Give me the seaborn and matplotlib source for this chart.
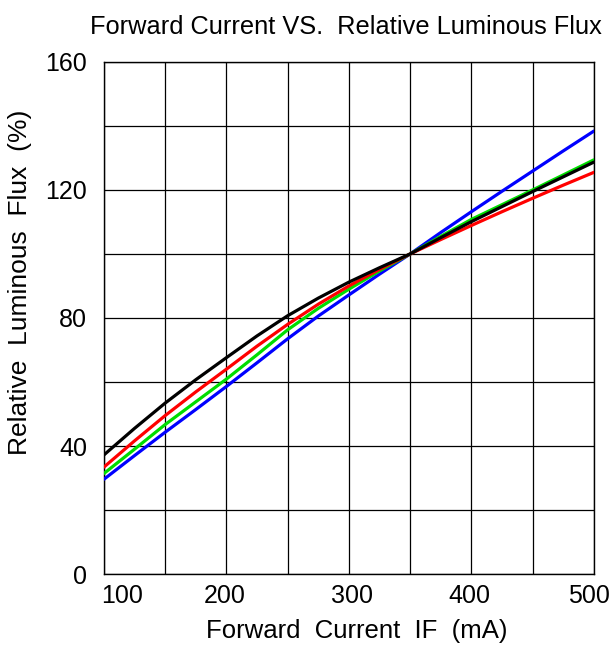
import matplotlib
matplotlib.use("Agg")
import matplotlib.pyplot as plt
import matplotlib.transforms as mtransforms
import seaborn as sns
import pandas as pd

current_ma = [100, 125, 150, 175, 200, 225, 250, 275, 300, 325, 350,
              375, 400, 425, 450, 475, 500]
flux_black = [37.2, 45.5, 53.4, 60.7, 67.6, 74.4, 80.7, 86.2, 91.2, 95.7, 100,
              105.1, 110.1, 114.8, 119.5, 124.1, 128.7]
flux_red = [33.4, 41.6, 49.5, 56.9, 64.0, 71.2, 78.0, 84.3, 90.0, 95.2, 100,
            104.5, 108.9, 113.2, 117.4, 121.5, 125.5]
flux_green = [31.4, 39.0, 46.7, 53.8, 60.9, 68.5, 76.3, 83.0, 89.0, 94.7, 100,
              105.5, 110.8, 115.4, 120.0, 124.7, 129.4]
flux_blue = [29.6, 37.0, 44.3, 51.4, 58.6, 66.0, 73.5, 80.6, 87.2, 93.7, 100,
             106.7, 113.2, 119.6, 125.9, 132.2, 138.4]

x_ticks = [100, 200, 300, 400, 500]
y_ticks = [0, 40, 80, 120, 160]

sns.set_theme(style="white")
plt.rcParams['font.family'] = ['Liberation Sans', 'DejaVu Sans']

series = {"black": flux_black, "red": flux_red, "green": flux_green, "blue": flux_blue}
rows = []
for name, vals in series.items():
    for xv, yv in zip(current_ma, vals):
        rows.append({"IF": xv, "flux": yv, "series": name})
df = pd.DataFrame(rows)

fig = plt.figure(figsize=(6.11, 6.45), dpi=100)
ax = fig.add_axes([0.170, 0.110, 0.802, 0.794])

palette = {"black": "#000000", "red": "#ff0000", "green": "#00dd00", "blue": "#0000ff"}
order = ["blue", "green", "red", "black"]
for name in order:
    sub = df[df["series"] == name]
    sns.lineplot(data=sub, x="IF", y="flux", color=palette[name], lw=2.3, ax=ax,
                 legend=False, zorder=3)

ax.set_xlim(100, 500)
ax.set_ylim(0, 160)
ax.set_xticks(x_ticks)
ax.set_xticks([150, 250, 350, 450], minor=True)
ax.set_yticks(y_ticks)
ax.set_yticks([20, 60, 100, 140], minor=True)
ax.grid(True, which="both", color="black", lw=0.9)
ax.tick_params(axis="both", which="both", length=0, labelsize=18, colors="black")
ax.tick_params(axis="x", pad=7.5)
ax.tick_params(axis="y", pad=12)
for s in ax.spines.values():
    s.set_color("black")
    s.set_linewidth(1.0)

ax.set_xticklabels([str(v) for v in x_ticks])
shifts = [0.177, -0.02, 0.027, -0.017, -0.05]
for lbl, dx in zip(ax.get_xticklabels(), shifts):
    lbl.set_transform(lbl.get_transform() + mtransforms.ScaledTranslation(dx, 0, fig.dpi_scale_trans))

ax.set_xlabel("Forward  Current  IF  (mA)", fontsize=18.5, color="black")
ax.xaxis.set_label_coords(0.516, -0.088)
ax.set_ylabel("Relative  Luminous  Flux  (%)", fontsize=19, color="black")
ax.yaxis.set_label_coords(-0.147, 0.569)
fig.text(0.5655, 0.958, "Forward Current VS.  Relative Luminous Flux", fontsize=18.3,
         ha="center", va="center", color="black")

fig.savefig("out.png", dpi=100)
